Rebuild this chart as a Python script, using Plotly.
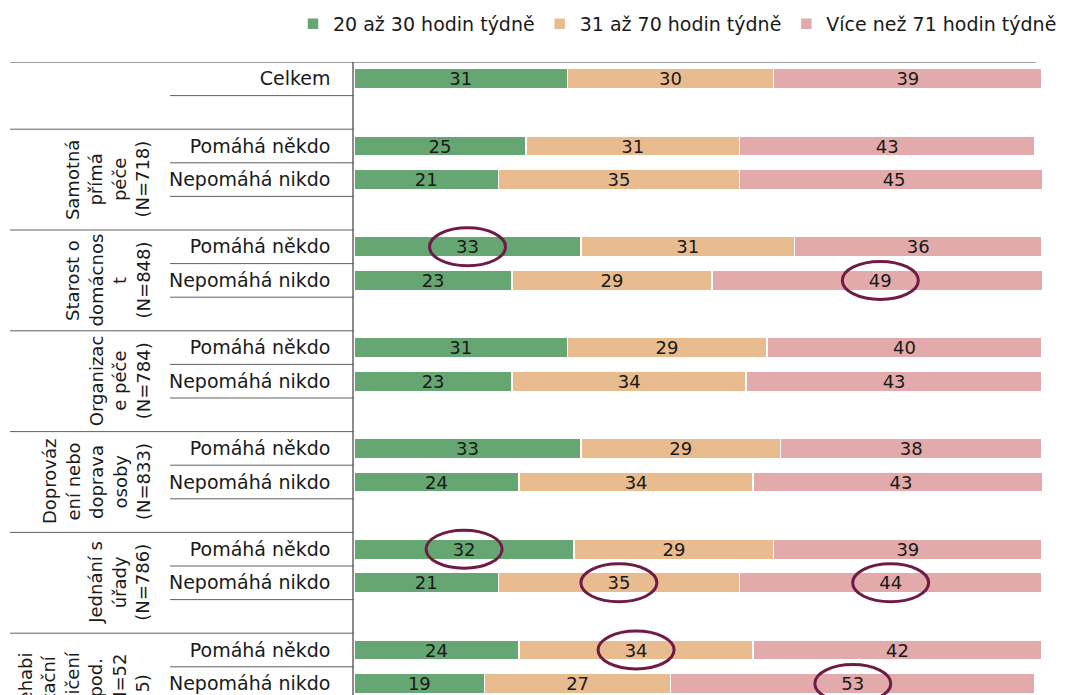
import plotly.graph_objects as go

# ---- data ----
series_names = ["20 až 30 hodin týdně", "31 až 70 hodin týdně", "Více než 71 hodin týdně"]
series_colors = ["#66A673", "#E8BC8F", "#E2AAAA"]

row_labels = ["Celkem", "",
              "Pomáhá někdo", "Nepomáhá nikdo", "",
              "Pomáhá někdo", "Nepomáhá nikdo", "",
              "Pomáhá někdo", "Nepomáhá nikdo", "",
              "Pomáhá někdo", "Nepomáhá nikdo", "",
              "Pomáhá někdo", "Nepomáhá nikdo", "",
              "Pomáhá někdo", "Nepomáhá nikdo", ""]

data_rows = [0, 2, 3, 5, 6, 8, 9, 11, 12, 14, 15, 17, 18]
v_20_30 = [31, 25, 21, 33, 23, 31, 23, 33, 24, 32, 21, 24, 19]
v_31_70 = [30, 31, 35, 31, 29, 29, 34, 29, 34, 29, 35, 34, 27]
v_71 = [39, 43, 45, 36, 49, 40, 43, 38, 43, 39, 44, 42, 53]

group_labels = [
    ["Samotná", "přímá", "péče", "(N=718)"],
    ["Starost o", "domácnos", "t", "(N=848)"],
    ["Organizac", "e péče", "(N=784)"],
    ["Doprováz", "ení nebo", "doprava", "osoby", "(N=833)"],
    ["Jednání s", "úřady", "(N=786)"],
    ["Rehabi", "litační", "cvičení", "apod.", "(N=52", "5)"],
]

# highlighted values: (row, series index)
highlights = [(5, 0), (6, 2), (14, 0), (15, 1), (15, 2), (17, 1), (18, 2)]

# ---- layout constants (page body adds an 8px offset) ----
OFF = 8
W, H = 1070, 695
PL, PR, PT = 354 - OFF, 1042 - OFF, 62 - OFF
PW = PR - PL
PH = H - PT
FONT = "DejaVu Sans"
TXT = "#1a1a1a"


def px2paper(px):
    return (px - OFF - PL) / PW


fig = go.Figure()
all_vals = [v_20_30, v_31_70, v_71]
for name, col, vals in zip(series_names, series_colors, all_vals):
    fig.add_trace(go.Bar(
        y=data_rows, x=vals, name=name, orientation="h",
        marker=dict(color=col, line=dict(color="white", width=1.5)),
        width=0.6,
        text=vals, texttemplate="%{x}", textposition="inside",
        insidetextanchor="middle", constraintext="none", textangle=0,
        textfont=dict(family=FONT, size=18, color=TXT),
        hoverinfo="skip",
    ))

shapes = []
shapes.append(dict(type="line", xref="paper", yref="y", x0=px2paper(10), x1=px2paper(1036),
                   y0=-0.5, y1=-0.5, line=dict(color="#404040", width=1.2)))
n_rows = len(row_labels)
group_starts = [2 + 3 * g for g in range(len(group_labels))]
for gs in group_starts:
    shapes.append(dict(type="line", xref="paper", yref="y", x0=px2paper(10), x1=0,
                       y0=gs - 0.5, y1=gs - 0.5, line=dict(color="#606060", width=1)))
inner = [0] + [r for gs in group_starts for r in (gs, gs + 1)]
for r in inner:
    shapes.append(dict(type="line", xref="paper", yref="y", x0=px2paper(170), x1=0,
                       y0=r + 0.5, y1=r + 0.5, line=dict(color="#606060", width=1)))

for row, s in highlights:
    i = data_rows.index(row)
    before = sum(all_vals[k][i] for k in range(s))
    cx = before + all_vals[s][i] / 2
    shapes.append(dict(type="circle", xref="x", yref="y", xsizemode="pixel", ysizemode="pixel",
                       xanchor=cx, yanchor=row, x0=-38, x1=38, y0=-19, y1=19,
                       line=dict(color="#701B45", width=3), layer="above"))

annotations = []
for g, lines in enumerate(group_labels):
    center_row = group_starts[g] + 1
    n = len(lines)
    for k, ln in enumerate(lines):
        xpx = 143 - 23.5 * (n - 1 - k)
        annotations.append(dict(xref="paper", yref="y", x=px2paper(xpx), y=center_row,
                                text=ln, textangle=-90, showarrow=False,
                                xanchor="center", yanchor="middle",
                                font=dict(family=FONT, size=18, color=TXT)))

fig.update_layout(
    width=W, height=H,
    margin=dict(l=PL, r=W - PR, t=PT, b=0, pad=0, autoexpand=False),
    barmode="stack",
    plot_bgcolor="white", paper_bgcolor="white",
    font=dict(family=FONT, size=18, color=TXT),
    shapes=shapes,
    annotations=annotations,
    showlegend=True,
    legend=dict(orientation="h", xref="paper", yref="paper",
                x=px2paper(293), xanchor="left", y=1 + (PT - (24 - OFF)) / PH, yanchor="middle",
                font=dict(family=FONT, size=19, color=TXT),
                itemwidth=30, traceorder="normal", bgcolor="rgba(0,0,0,0)"),
    xaxis=dict(range=[0, 100], visible=False, fixedrange=True, automargin=False),
    yaxis=dict(range=[-0.5 + PH / 33.6, -0.5], tickmode="array", tickvals=list(range(n_rows)),
               ticktext=row_labels, showgrid=False, zeroline=False, automargin=False,
               showline=True, linecolor="#8c8c8c", linewidth=1.5,
               ticks="outside", ticklen=18, tickcolor="rgba(0,0,0,0)",
               tickfont=dict(family=FONT, size=19, color=TXT), fixedrange=True),
)

fig.write_html("out.html")
